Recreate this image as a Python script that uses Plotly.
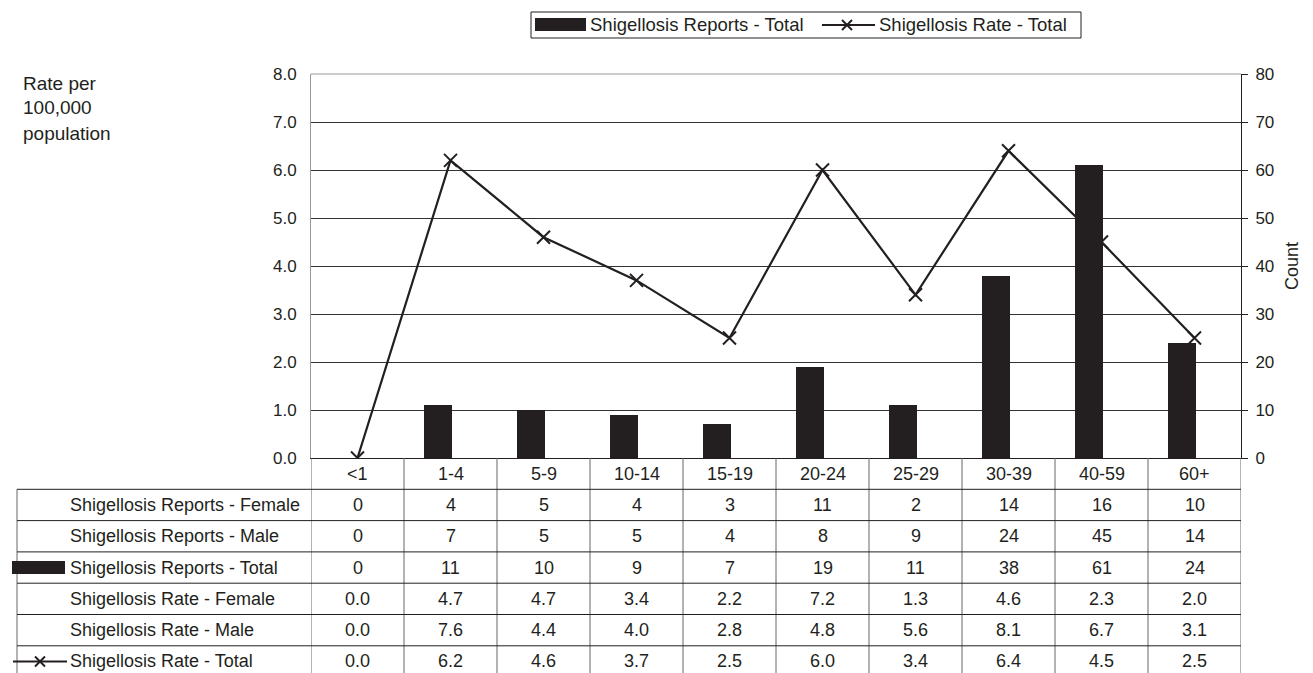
import plotly.graph_objects as go

# data
age_groups = ['<1', '1-4', '5-9', '10-14', '15-19', '20-24', '25-29', '30-39', '40-59', '60+']
reports_female = [0, 4, 5, 4, 3, 11, 2, 14, 16, 10]
reports_male = [0, 7, 5, 5, 4, 8, 9, 24, 45, 14]
reports_total = [0, 11, 10, 9, 7, 19, 11, 38, 61, 24]
rate_female = [0.0, 4.7, 4.7, 3.4, 2.2, 7.2, 1.3, 4.6, 2.3, 2.0]
rate_male = [0.0, 7.6, 4.4, 4.0, 2.8, 4.8, 5.6, 8.1, 6.7, 3.1]
rate_total = [0.0, 6.2, 4.6, 3.7, 2.5, 6.0, 3.4, 6.4, 4.5, 2.5]

row_labels = ['Shigellosis Reports - Female', 'Shigellosis Reports - Male',
              'Shigellosis Reports - Total', 'Shigellosis Rate - Female',
              'Shigellosis Rate - Male', 'Shigellosis Rate - Total']
row_values = [reports_female, reports_male, reports_total,
              rate_female, rate_male, rate_total]
row_fmt = ['{:d}', '{:d}', '{:d}', '{:.1f}', '{:.1f}', '{:.1f}']

FONT = 'Liberation Sans, Arial, sans-serif'
INK = '#231f20'

# plot area in pixels (used to place the table / legend decorations)
L, R, T, B = 311, 1241, 74, 458


def px(x):
    return (x - L) / (R - L)


def py(y):
    return (B - y) / (B - T)


rh = 31.3 / (B - T)  # table row height in paper units

fig = go.Figure()

fig.add_trace(go.Scatter(x=age_groups, y=rate_total, yaxis='y', mode='lines+markers',
                         name='Shigellosis Rate - Total',
                         line=dict(color=INK, width=2.2),
                         marker=dict(symbol='x-thin', size=13,
                                     line=dict(color=INK, width=2))))
fig.add_trace(go.Bar(x=age_groups, y=reports_total, yaxis='y2',
                     name='Shigellosis Reports - Total',
                     width=0.31, offset=-0.29,
                     marker=dict(color=INK, line=dict(width=0))))

shapes = []
annotations = []
n = len(age_groups)

# vertical table lines at category boundaries
for i in range(n + 1):
    shapes.append(dict(type='line', xref='x', yref='paper', x0=i - 0.5, x1=i - 0.5,
                       y0=0, y1=-7 * rh, line=dict(color='#666', width=1)))
# left border of label column
shapes.append(dict(type='line', xref='paper', yref='paper', x0=px(17), x1=px(17),
                   y0=-rh, y1=-7 * rh, line=dict(color='#666', width=1)))
# horizontal table lines
for k in range(1, 7):
    shapes.append(dict(type='line', xref='paper', yref='paper', x0=px(17), x1=1,
                       y0=-k * rh, y1=-k * rh, line=dict(color=INK, width=1)))

# table text
for k, (lab, vals, fmt) in enumerate(zip(row_labels, row_values, row_fmt), start=1):
    yc = -(k + 0.5) * rh
    annotations.append(dict(xref='paper', yref='paper', x=px(68), y=yc, text=lab,
                            xanchor='left', yanchor='middle', showarrow=False,
                            font=dict(size=18, color=INK)))
    for i, v in enumerate(vals):
        annotations.append(dict(xref='x', yref='paper', x=age_groups[i], y=yc,
                                text=fmt.format(v), xanchor='center', yanchor='middle',
                                showarrow=False, font=dict(size=18, color=INK)))

# category row
for i, c in enumerate(age_groups):
    annotations.append(dict(xref='x', yref='paper', x=c, y=-0.5 * rh, text=c,
                            xanchor='center', yanchor='middle', showarrow=False,
                            font=dict(size=18, color=INK)))

# symbols in the table label column
yb = -3.5 * rh
shapes.append(dict(type='rect', xref='paper', yref='paper', x0=px(12), x1=px(65),
                   y0=yb - 6.5 / 384, y1=yb + 6.5 / 384, fillcolor=INK, line=dict(width=0)))
yl = -6.5 * rh
shapes.append(dict(type='line', xref='paper', yref='paper', x0=px(13), x1=px(67),
                   y0=yl, y1=yl, line=dict(color=INK, width=2)))
for s in (1, -1):
    shapes.append(dict(type='line', xref='paper', yref='paper', x0=px(35), x1=px(45),
                       y0=yl - s * 5 / 384, y1=yl + s * 5 / 384, line=dict(color=INK, width=2)))

# legend box at top
shapes.append(dict(type='rect', xref='paper', yref='paper', x0=px(531), x1=px(1081),
                   y0=py(38), y1=py(12), line=dict(color=INK, width=1), fillcolor='white'))
shapes.append(dict(type='rect', xref='paper', yref='paper', x0=px(535), x1=px(586),
                   y0=py(31), y1=py(18), fillcolor=INK, line=dict(width=0)))
annotations.append(dict(xref='paper', yref='paper', x=px(588), y=py(25),
                        text='Shigellosis Reports - Total', xanchor='left', yanchor='middle',
                        showarrow=False, font=dict(size=18.5, color=INK)))
shapes.append(dict(type='line', xref='paper', yref='paper', x0=px(822), x1=px(875),
                   y0=py(25), y1=py(25), line=dict(color=INK, width=2)))
for s in (1, -1):
    shapes.append(dict(type='line', xref='paper', yref='paper', x0=px(842), x1=px(852),
                       y0=py(25 - s * 5), y1=py(25 + s * 5), line=dict(color=INK, width=2)))
annotations.append(dict(xref='paper', yref='paper', x=px(877), y=py(25),
                        text='Shigellosis Rate - Total', xanchor='left', yanchor='middle',
                        showarrow=False, font=dict(size=18.5, color=INK)))

# left axis title
for j, t in enumerate(['Rate per', '100,000', 'population']):
    annotations.append(dict(xref='paper', yref='paper', x=px(21), y=py(83 + 25 * j),
                            text=t, xanchor='left', yanchor='middle', showarrow=False,
                            font=dict(size=19, color=INK)))

fig.update_layout(
    width=1313, height=673,
    margin=dict(l=L, r=1313 - R, t=T, b=673 - B),
    paper_bgcolor='white', plot_bgcolor='white',
    font=dict(family=FONT, size=17, color=INK),
    showlegend=False,
    bargap=0,
    xaxis=dict(type='category', showticklabels=False, showgrid=False, ticks='',
               showline=True, linecolor=INK, linewidth=1, mirror=False,
               range=[-0.5, n - 0.5]),
    yaxis=dict(range=[0, 8], dtick=1, tickformat='.1f', showgrid=True,
               gridcolor='#333', gridwidth=1, showline=True, linecolor='#999',
               linewidth=1, ticks='', zeroline=False, tickfont=dict(size=17),
               ticklabelstandoff=10),
    yaxis2=dict(range=[0, 80], dtick=10, overlaying='y', side='right', showgrid=False,
                showline=True, linecolor=INK, linewidth=1, ticks='outside', ticklen=6,
                tickcolor=INK, zeroline=False, tickfont=dict(size=17),
                ticklabelstandoff=4,
                title=dict(text='Count', font=dict(size=18), standoff=12)),
    shapes=shapes,
    annotations=annotations,
)
# top border of plot area
fig.add_shape(type='line', xref='paper', yref='paper', x0=0, x1=1, y0=1, y1=1,
              line=dict(color='#999', width=1))

fig.write_html('out.html', config={'displayModeBar': False},
               post_script="document.body.style.margin='0';")
